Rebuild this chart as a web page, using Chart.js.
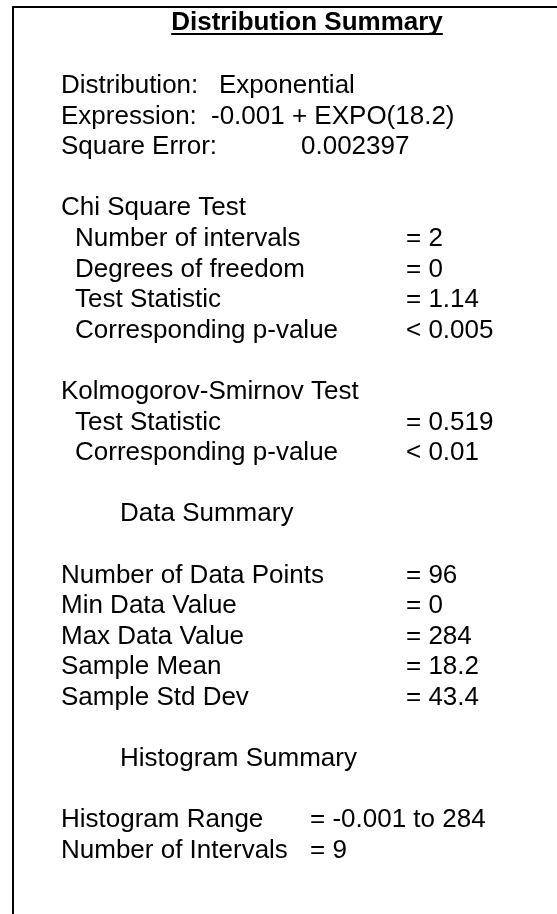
<!DOCTYPE html>
<html>
<head>
<meta charset="utf-8">
<title>Distribution Summary</title>
<script src="https://cdn.jsdelivr.net/npm/chart.js@4.4.1/dist/chart.umd.min.js"></script>
<style>
  html, body { margin: 0; padding: 0; background: #fff; }
  #wrap { position: relative; width: 557px; height: 914px; }
</style>
</head>
<body>
<div id="wrap"><canvas id="summary"></canvas></div>
<script>
  // ---------- data ----------
  var TITLE = "Distribution Summary";

  var fitLabels = ["Distribution:", "Expression:", "Square Error:"];
  var fitValues = ["Exponential", "-0.001 + EXPO(18.2)", "0.002397"];

  var chiHeading = "Chi Square Test";
  var chiLabels = ["Number of intervals", "Degrees of freedom", "Test Statistic", "Corresponding p-value"];
  var chiValues = ["= 2", "= 0", "= 1.14", "< 0.005"];

  var ksHeading = "Kolmogorov-Smirnov Test";
  var ksLabels = ["Test Statistic", "Corresponding p-value"];
  var ksValues = ["= 0.519", "< 0.01"];

  var dataHeading = "Data Summary";
  var dataLabels = ["Number of Data Points", "Min Data Value", "Max Data Value", "Sample Mean", "Sample Std Dev"];
  var dataValues = ["= 96", "= 0", "= 284", "= 18.2", "= 43.4"];

  var histHeading = "Histogram Summary";
  var histLabels = ["Histogram Range", "Number of Intervals"];
  var histValues = ["= -0.001 to 284", "= 9"];

  // ---------- layout ----------
  var FONT = '26px "Liberation Sans", Arial, sans-serif';
  var BOLD = 'bold 26px "Liberation Sans", Arial, sans-serif';
  var TOP = 31.8, PITCH = 30.6;           // baseline of line k = TOP + k * PITCH
  var X0 = 61, XIND = 75, XSUB = 120, XVAL = 406, XHIST = 310;
  var FIT_X = [219, 211, 301];

  function lineY(k) { return TOP + k * PITCH; }

  function buildRows() {
    var rows = [], k;
    k = 2;
    fitLabels.forEach(function (l, i) {
      rows.push({ x: X0, k: k, t: l });
      rows.push({ x: FIT_X[i], k: k, t: fitValues[i] });
      k++;
    });
    k = 6;
    rows.push({ x: X0, k: k, t: chiHeading });
    chiLabels.forEach(function (l, i) {
      k++;
      rows.push({ x: XIND, k: k, t: l });
      rows.push({ x: XVAL, k: k, t: chiValues[i] });
    });
    k = 12;
    rows.push({ x: X0, k: k, t: ksHeading });
    ksLabels.forEach(function (l, i) {
      k++;
      rows.push({ x: XIND, k: k, t: l });
      rows.push({ x: XVAL, k: k, t: ksValues[i] });
    });
    rows.push({ x: XSUB, k: 16, t: dataHeading });
    k = 18;
    dataLabels.forEach(function (l, i) {
      rows.push({ x: X0, k: k, t: l });
      rows.push({ x: XVAL, k: k, t: dataValues[i] });
      k++;
    });
    rows.push({ x: XSUB, k: 24, t: histHeading });
    k = 26;
    histLabels.forEach(function (l, i) {
      rows.push({ x: X0, k: k, t: l });
      rows.push({ x: XHIST, k: k, t: histValues[i] });
      k++;
    });
    return rows;
  }

  var summaryPlugin = {
    id: "summaryText",
    afterDraw: function (chart) {
      var ctx = chart.ctx;
      ctx.save();
      // frame: only the left and top edges fall inside the picture
      ctx.strokeStyle = "#000";
      ctx.lineWidth = 2;
      ctx.beginPath();
      ctx.moveTo(13, chart.height + 2);
      ctx.lineTo(13, 7);
      ctx.lineTo(chart.width + 2, 7);
      ctx.stroke();

      ctx.fillStyle = "#000";
      ctx.textBaseline = "alphabetic";
      ctx.font = BOLD;
      ctx.textAlign = "center";
      var cx = 307;
      ctx.fillText(TITLE, cx, 30);
      var w = ctx.measureText(TITLE).width;
      ctx.fillRect(cx - w / 2, 33, w, 2);

      ctx.textAlign = "left";
      ctx.font = FONT;
      buildRows().forEach(function (r) { ctx.fillText(r.t, r.x, lineY(r.k)); });
      ctx.restore();
    }
  };

  new Chart(document.getElementById("summary"), {
    type: "scatter",
    data: { datasets: [{ data: [] }] },
    options: {
      responsive: true, maintainAspectRatio: false, animation: false,
      plugins: { legend: { display: false }, tooltip: { enabled: false } },
      scales: { x: { display: false }, y: { display: false } }
    },
    plugins: [summaryPlugin]
  });
</script>
</body>
</html>
